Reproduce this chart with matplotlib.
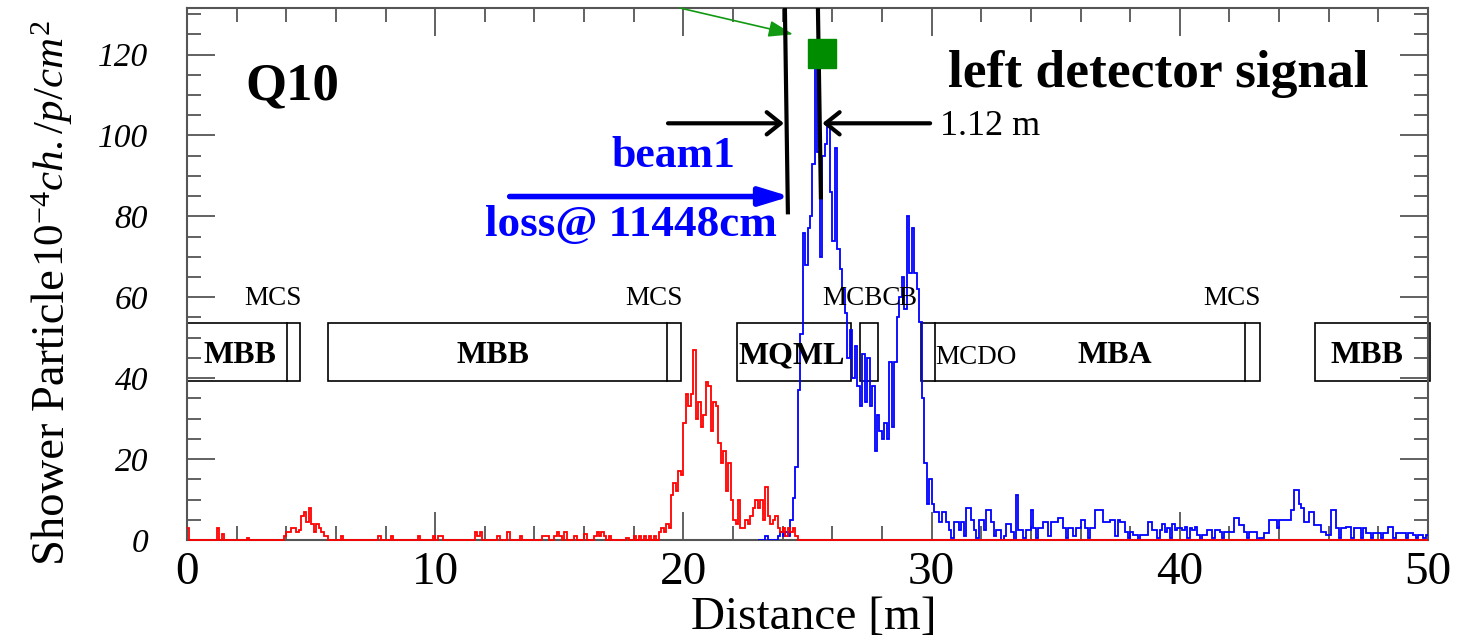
import numpy as np
import matplotlib
matplotlib.use("Agg")
import matplotlib.pyplot as plt
from matplotlib.patches import Rectangle

plt.rcParams['font.family'] = ['Liberation Serif', 'DejaVu Serif']
plt.rcParams['mathtext.fontset'] = 'custom'
plt.rcParams['mathtext.rm'] = 'Liberation Serif'
plt.rcParams['mathtext.it'] = 'Liberation Serif:italic'
plt.rcParams['mathtext.bf'] = 'Liberation Serif:bold'

# ---------------- data (0.1 m bins) ----------------
bin_width = 0.1
red_start = 0.0
red_values = [
    3, 0, 0, 0, 0, 0, 0, 0, 0, 0,          # 0 m
    0, 0, 3, 0, 1.5, 0, 0, 0, 0, 0,        # 1
    0, 0, 0, 0, 0.5, 0, 0, 0, 0, 0,        # 2
    0, 0, 0, 0, 0, 0, 0, 0, 0, 1,          # 3
    2, 2, 3, 3, 2, 2.5, 6, 7, 4.5, 8,      # 4
    4, 2, 4, 3, 2, 1, 1, 0, 0, 0,          # 5
    0, 0, 1, 0, 0, 0, 0, 0, 0, 0,          # 6
    0, 0, 0, 0, 0, 0, 0, 1, 0, 0,          # 7
    0, 0, 1, 0, 0, 0, 0, 0, 0, 0,          # 8
    0, 0, 0, 1, 0, 0, 0, 0, 0, 1,          # 9
    0, 1, 1, 0, 0, 0, 0, 0, 0, 0,          # 10
    0, 0, 0, 0, 0, 0, 2, 1, 2, 0,          # 11
    0, 0, 0, 0, 0, 1, 0, 0, 0, 2,          # 12
    0, 0, 0, 0, 1, 0, 0, 0, 0, 0,          # 13
    0, 0, 0, 1, 1, 1, 0, 0, 1, 2,          # 14
    1, 0, 2, 0, 0, 0, 1, 0, 0, 0,          # 15
    1.5, 0, 0, 0, 1, 2, 1, 2, 1, 0,        # 16
    1, 0, 0, 0, 0, 0, 0, 0.5, 0, 0,        # 17
    1, 0, 1, 0, 1, 0, 1, 0, 1, 0,          # 18
    2, 3, 2, 4, 3, 11, 14, 12, 17, 16,     # 19
    29, 36, 33, 36, 47, 30, 34, 28, 31, 39,  # 20
    38, 27, 34, 33, 24, 19, 22, 12, 19, 10,  # 21
    5, 4, 10, 3, 3, 5, 4, 6, 8, 10,        # 22
    8, 10, 5, 13, 6, 4, 5, 6, 3, 2,        # 23
    3, 1, 3, 2, 3, 1, 0, 0, 0, 0,          # 24
    0, 0, 0, 0, 0, 0, 0, 0, 0, 0,          # 25
    0, 0, 0, 0, 0, 0, 0, 0, 0, 0,          # 26
    0, 0, 0, 0, 0, 0, 0, 0, 0, 0,          # 27
    0, 0, 0, 0, 0, 0, 0, 0, 0, 0,          # 28
    0, 0, 0, 0, 0, 0, 0, 0, 0, 0,          # 29
    0, 0, 0, 0, 0, 0, 0, 0, 0, 0,          # 30
    0, 0, 0, 0, 0, 0, 0, 0, 0, 0,          # 31
    0, 0, 0, 0, 0, 0, 0, 0, 0, 0,          # 32
    0, 0, 0, 0, 0, 0, 0, 0, 0, 0,          # 33
    0, 0, 0, 0, 0, 0, 0, 0, 0, 0,          # 34
    0, 0, 0, 0, 0, 0, 0, 0, 0, 0,          # 35
    0, 0, 0, 0, 0, 0, 0, 0, 0, 0,          # 36
    0, 0, 0, 0, 0, 0, 0, 0, 0, 0,          # 37
    0, 0, 0, 0, 0, 0, 0, 0, 0, 0,          # 38
    0, 0, 0, 0, 0, 0, 0, 0, 0, 0,          # 39
    0, 0, 0, 0, 0, 0, 0, 0, 0, 0,          # 40
    0, 0, 0, 0, 0, 0, 0, 0, 0, 0,          # 41
    0, 0, 0, 0, 0, 0, 0, 0, 0, 0,          # 42
    0, 0, 0, 0, 0, 0, 0, 0, 0, 0,          # 43
    0, 0, 0, 0, 0, 0, 0, 0, 0, 0,          # 44
    0, 0, 0, 0, 0, 0, 0, 0, 0, 0,          # 45
    0, 0, 0, 0, 0, 0, 0, 0, 0, 0,          # 46
    0, 0, 0, 0, 0, 0, 0, 0, 0, 0,          # 47
    0, 0, 0, 0, 0, 0, 0, 0, 0, 0,          # 48
    0, 0, 0, 0, 0, 0, 0, 0, 0, 0,          # 49
]

blue_start = 23.0
blue_values = [
    0, 0, 0, 1, 0, 0, 0, 0, 1, 2,                  # 23 m
    1, 2, 1, 5, 10.5, 18, 37, 51, 76, 68,          # 24
    77, 80, 93, 118, 96, 70, 95, 98, 102, 86,      # 25
    74, 97, 72, 67, 62, 56, 45, 52, 40, 48,        # 26
    38, 33, 46, 34, 45, 33, 38, 22, 31, 27,        # 27
    25, 29, 25, 44, 28, 44, 55, 60, 65, 57,        # 28
    80, 66, 77, 66, 62, 54, 35, 19, 9, 15,         # 29
    9, 7, 7, 4.5, 7, 7, 4.5, 2.5, 0.5, 4.5,        # 30
    4.5, 2.5, 4.5, 1, 8, 8, 5, 2.5, 0.5, 5,        # 31
    5, 2.5, 7.4, 7.4, 4.5, 1, 2.5, 2.5, 0, 1,      # 32
    4, 4, 2, 0, 11, 2.5, 2.5, 0.5, 2.5, 2.5,       # 33
    7.4, 3, 0.5, 3, 3, 4.5, 4.5, 1, 4.5, 4.5,      # 34
    4.5, 5.4, 5.4, 3, 0.5, 3, 3, 1, 3, 3,          # 35
    5, 5, 3, 0.5, 3, 3, 7.4, 7.4, 7.4, 4.5,        # 36
    4.5, 4.5, 5, 5, 1, 5, 4.5, 4.5, 2, 0.5,        # 37
    2, 1.2, 1.2, 0, 1.2, 1.2, 1.2, 4.5, 4.5, 2.5,  # 38
    2.5, 0.5, 2.5, 4, 2, 3, 0.5, 4, 2.5, 3,        # 39
    3, 2.5, 3.3, 0.5, 3, 2.5, 3.3, 1.2, 0, 1.2,    # 40
    1.2, 2.5, 2.5, 0.5, 2.5, 2.5, 2, 0.5, 2, 2,    # 41
    2, 2, 5.4, 5.4, 3.7, 3.7, 2, 0.5, 2, 2,        # 42
    2, 0, 0.5, 0.5, 1.7, 1.7, 5, 5, 5, 3,          # 43
    5, 5, 5, 5, 5, 7.4, 12.4, 12.4, 9, 7.8,        # 44
    4.5, 4.5, 7, 7, 3.7, 3.7, 3.7, 2, 2, 1.2,      # 45
    1.2, 7.4, 7.4, 3, 0.5, 3, 3, 3.3, 3.3, 0.5,    # 46
    3, 3, 3, 0.5, 3, 1.7, 1.7, 0.5, 1.7, 1.7,      # 47
    1.7, 0.5, 1.7, 1.7, 3.3, 3.3, 0.5, 1.7, 1.7, 1.7,  # 48
    1.7, 0.5, 1.7, 1.7, 1.2, 0.5, 1.2, 1.2, 0.5, 1.2,  # 49
]

x_ticks = [0, 10, 20, 30, 40, 50]
y_ticks = [0, 20, 40, 60, 80, 100, 120]

# magnet boxes
magnet_names = ["MBB", "MBB", "MQML", "", "MBA", "MBB"]
magnet_start = [0.0, 5.68, 22.16, 27.10, 29.57, 45.45]
magnet_end = [4.55, 19.90, 26.75, 27.84, 43.23, 50.10]
magnet_dividers = [[4.03], [19.34], [], [], [30.14, 42.62], []]
magnet_label_x = [2.14, 12.33, 22.2, None, 37.39, 47.54]
corrector_names = ["MCS", "MCS", "MCBC", "B", "MCS"]
corrector_pos = [3.47, 18.82, 25.58, 28.65, 42.10]
corrector_align = ["center", "center", "left", "left", "center"]

# ---------------- figure ----------------
fig = plt.figure(figsize=(14.58, 6.41), dpi=100)
ax = fig.add_axes([187 / 1458, 1 - 540 / 641, (1428 - 187) / 1458, (540 - 8) / 641])
ax.set_xlim(0, 50)
ax.set_ylim(0, 131.5)

blue_edges = blue_start + bin_width * np.arange(len(blue_values) + 1)
red_edges = red_start + bin_width * np.arange(len(red_values) + 1)
ax.stairs(blue_values, blue_edges, color="#0000ff", lw=1.3, baseline=None, zorder=3)
ax.stairs(red_values, red_edges, color="#ff0000", lw=1.3, baseline=None, zorder=3,
          clip_on=False)

# magnets
box_lo, box_hi = 39.4, 53.7
for s, e, divs in zip(magnet_start, magnet_end, magnet_dividers):
    ax.add_patch(Rectangle((s, box_lo), e - s, box_hi - box_lo, fill=False,
                           ec="black", lw=1.2, zorder=2, clip_on=False))
    for d in divs:
        ax.plot([d, d], [box_lo, box_hi], color="black", lw=1.2, zorder=2)
for name, lx in zip(magnet_names, magnet_label_x):
    if not name:
        continue
    ha = "left" if name == "MQML" else "center"
    ax.text(lx, 45.6, name, fontsize=23, fontweight="bold", ha=ha, va="center", zorder=4)
ax.text(30.14, 45.2, "MCDO", fontsize=19.5, ha="left", va="center", zorder=4)
for name, px, al in zip(corrector_names, corrector_pos, corrector_align):
    ax.text(px, 59.6, name, fontsize=19.5, ha=al, va="center", zorder=4)

# annotations
ax.text(2.34, 108.9, "Q10", fontsize=38, fontweight="bold", ha="left", va="baseline")
ax.text(30.66, 111.9, "left detector signal", fontsize=38.5, fontweight="bold",
        ha="left", va="baseline")
ax.text(30.34, 100.2, "1.12 m", fontsize=26, ha="left", va="baseline")
ax.text(17.12, 92.1, "beam1", fontsize=31.5, fontweight="bold", color="#0000ff",
        ha="left", va="baseline")
ax.text(12.0, 75.2, "loss@ 11448cm", fontsize=32.5, fontweight="bold", color="#0000ff",
        ha="left", va="baseline")

ax.plot([24.09, 24.21], [131.5, 81.0], color="black", lw=3, zorder=5)
ax.plot([25.42, 25.54], [131.5, 84.7], color="black", lw=3, zorder=5)
ax.add_patch(Rectangle((25.02, 116.6), 1.13, 7.2, color="#008c00", zorder=6))

ax.annotate("", xy=(24.05, 103), xytext=(19.38, 103),
            arrowprops=dict(arrowstyle="->,head_length=1.0,head_width=0.8",
                            lw=3, color="black", shrinkA=0, shrinkB=0,
                            mutation_scale=10))
ax.annotate("", xy=(25.6, 103), xytext=(29.94, 103),
            arrowprops=dict(arrowstyle="->,head_length=1.0,head_width=0.8",
                            lw=3, color="black", shrinkA=0, shrinkB=0,
                            mutation_scale=10))
ax.annotate("", xy=(24.3, 84.9), xytext=(13.0, 84.9),
            arrowprops=dict(arrowstyle="-|>,head_length=1.8,head_width=0.55",
                            lw=4, color="#0000ff", shrinkA=0, shrinkB=0,
                            mutation_scale=10))
ax.annotate("", xy=(24.42, 125.0), xytext=(19.86, 131.5),
            arrowprops=dict(arrowstyle="-|>,head_length=1.5,head_width=0.5",
                            lw=1.2, color="#119911", shrinkA=0, shrinkB=0,
                            mutation_scale=10))

# axes styling
spine_col = "#555555"
for sp in ax.spines.values():
    sp.set_color(spine_col)
    sp.set_linewidth(1.5)
ax.set_xticks(x_ticks)
ax.set_xticks(np.arange(0, 51, 2), minor=True)
ax.set_yticks(y_ticks)
ax.set_yticks(np.arange(0, 131, 5), minor=True)
ax.tick_params(which="both", direction="in", top=True, right=True, color=spine_col, width=1.3)
ax.tick_params(which="major", length=20)
ax.tick_params(which="minor", length=10)
ax.tick_params(axis="x", which="major", labelsize=34, pad=8)
ax.tick_params(axis="y", which="major", labelsize=24, pad=28)
ax.set_xticklabels([str(v) for v in x_ticks])
ax.set_yticklabels([str(v) for v in y_ticks], fontstyle="italic")

fig.text(814 / 1458, 1 - 618 / 641, "Distance [m]", fontsize=34, ha="center", va="center")

# y label: regular part + italic unit part sharing a baseline
base_x = 64 / 1458
t1 = fig.text(base_x, 1 - 565 / 641, "Shower Particle", fontsize=33.5, rotation=90,
              rotation_mode="anchor", ha="left", va="baseline")
fig.canvas.draw()
bb = t1.get_window_extent(renderer=fig.canvas.get_renderer())
top_frac = bb.y1 / fig.bbox.height
fig.text(base_x, top_frac + 2 / 641, r"$\mathit{10^{-4}ch./p/cm^{2}}$", fontsize=31,
         rotation=90, rotation_mode="anchor", ha="left", va="baseline")

fig.savefig("out.png", dpi=100)
